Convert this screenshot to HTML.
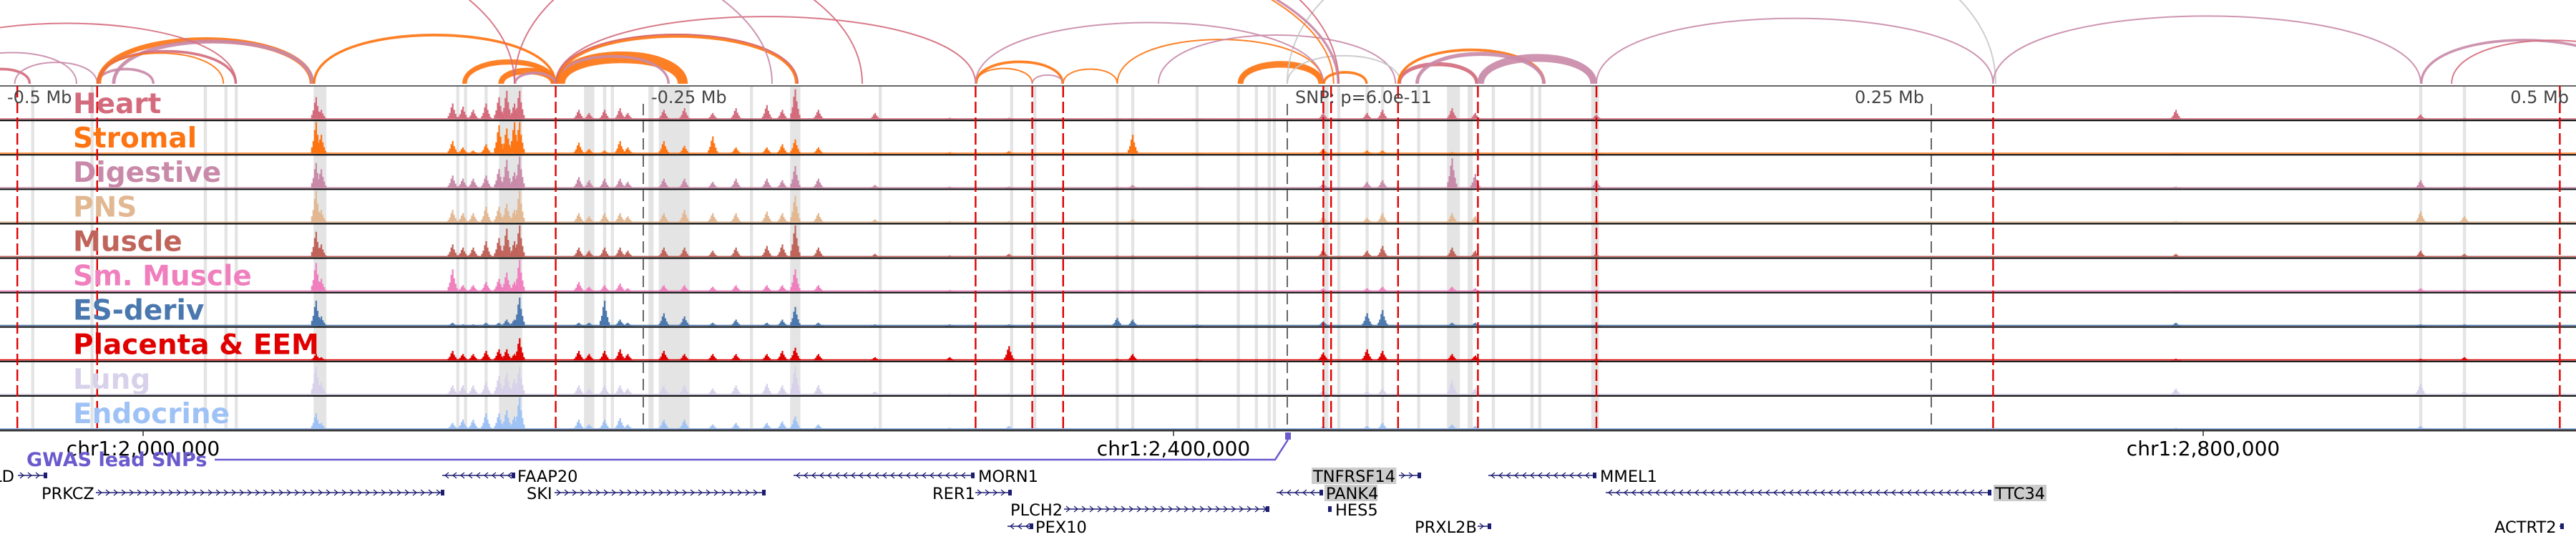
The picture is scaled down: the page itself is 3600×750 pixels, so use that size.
<!DOCTYPE html>
<html><head><meta charset="utf-8"><style>
html,body{margin:0;padding:0;background:#fff;}
svg{display:block;font-family:"DejaVu Sans","Liberation Sans",sans-serif;}
</style></head><body>
<svg id="chart" width="3600" height="750" viewBox="0 0 3600 750" xmlns="http://www.w3.org/2000/svg">
<g id="shades"></g>
<g id="arcs"></g>
<g id="tracks"></g>
<g id="vlines"></g>
<g id="labels"></g>
<g id="axis"></g>
<g id="genes"></g>
</svg>
<script>
// ---- data ----
const trackNames = ["Heart","Stromal","Digestive","PNS","Muscle","Sm. Muscle","ES-deriv","Placenta & EEM","Lung","Endocrine"];
const trackColors = ["#d46b7c","#fd7412","#c98aa9","#e2b892","#c0645b","#f07fbe","#4a78ae","#e00000","#d8d1ea","#9fc2f6"];
// peak positions in kb relative to lead SNP
const peakKb = [-377,-375,-324,-320,-316,-311,-306,-303,-300,-298,-275,-271,-265,-259,-256,-242,-234,-223,-214,-202,-196,-191,-182,-160,-131,-108,-66,-60,-35,14,31,37,64,73,120,345,440,457];
const hHeart   = [.7,.3,.5,.4,.3,.5,.7,.9,.5,.9,.3,.2,.3,.35,.2,.3,.35,.2,.35,.45,.3,.95,.3,.2,.05,.05,.03,.03,.03,.2,.2,.3,.35,.2,.15,.3,.15,.05];
const hStromal = [1,.6,.4,.2,.1,.3,.9,.8,1,1,.35,.15,.1,.4,.2,.4,.25,.55,.2,.2,.3,.45,.2,.05,.05,.08,.03,.6,.03,.15,.1,.1,.05,.05,.03,.02,.02,.02];
const hDigest  = [.8,.6,.4,.3,.3,.4,.6,.9,.5,1,.35,.25,.3,.3,.2,.3,.3,.2,.3,.3,.25,.7,.3,.1,.05,.05,.05,.1,.05,.15,.2,.25,.95,.45,.25,.05,.25,.05];
const hPNS     = [1,.4,.4,.3,.3,.5,.5,.6,.4,1,.3,.2,.3,.3,.2,.3,.4,.3,.3,.35,.3,.85,.3,.1,.05,.05,.05,.1,.05,.2,.15,.3,.3,.2,.1,.05,.35,.2];
const hMuscle  = [.8,.4,.4,.3,.3,.5,.6,.9,.5,1,.3,.2,.3,.3,.2,.3,.3,.2,.3,.35,.4,1,.3,.1,.05,.1,.05,.05,.05,.25,.2,.35,.3,.2,.1,.1,.2,.1];
const hSmMus   = [.9,.4,.7,.2,.2,.3,.4,.6,.3,1,.3,.15,.2,.25,.1,.2,.2,.15,.2,.2,.2,.7,.2,.05,.05,.05,.03,.05,.03,.1,.1,.15,.15,.1,.05,.03,.1,.05];
const hES      = [.8,.3,.1,.05,.05,.1,.1,.2,.2,.9,.1,.1,.8,.2,.1,.4,.3,.1,.2,.1,.2,.6,.1,.05,.05,.05,.25,.2,.05,.15,.4,.5,.1,.1,.05,.1,.05,.05];
const hPlac    = [.2,.1,.3,.2,.2,.3,.35,.35,.2,.7,.3,.2,.3,.35,.2,.3,.2,.2,.2,.2,.3,.4,.2,.1,.1,.45,.05,.2,.05,.25,.35,.3,.2,.15,.05,.05,.05,.1];
const hLung    = [.9,.4,.3,.3,.3,.4,.6,.7,.5,.9,.3,.2,.3,.3,.2,.3,.3,.2,.3,.35,.3,.9,.3,.1,.05,.05,.05,.05,.05,.15,.1,.2,.45,.2,.1,.2,.35,.1];
const hEndo    = [.5,.2,.2,.3,.3,.5,.5,.6,.4,1,.3,.15,.3,.35,.15,.3,.3,.15,.2,.2,.25,.4,.15,.05,.05,.1,.05,.05,.05,.1,.1,.2,.15,.1,.05,.05,.1,.05];
const trackHeights = [hHeart,hStromal,hDigest,hPNS,hMuscle,hSmMus,hES,hPlac,hLung,hEndo];
const shadeKb = [-487,-464,-420,-412,-408,[-378,-373],-322,-319,-311,[-306,-297],[-273,-269],-265,-262,[-248,-246],[-244,-232],-208,[-193,-189],-158,-107,-98,-66,-60,-35,-19,-12,-7,-5,[14,16],20,31,37,51,[62,67],[70,72],80,95,98,[118,121],440,457];
const redKb = [-493,-462,-284,-121,-99,-87,14,17,43,74,120,274,494];
const grayKb = [-500,-250,0,250];
// arcs: [startKb, endKb, colorIndex, multiplicity]
const arcData = [
 [-510,-488,0,2],[-520,-470,2,1],[-494,-462,2,1],[-462,-440,2,2],[-462,-378,1,4],[-456,-378,2,3],[-462,-408,0,2],[-462,-413,1,1],[-540,-408,0,1],
 [-378,-284,1,2],[-320,-284,1,4],[-306,-284,1,5],[-300,-284,2,2],[-284,-233,1,9],[-284,-240,2,2],[-284,-190,1,3],[-284,-190,0,1],[-284,-121,0,1],
 [-121,-87,1,2],[-121,-99,1,1],[-99,-87,2,1],[-87,-66,1,1],[-66,14,1,1],[-50,42,2,1],[-19,14,1,5],[0,44,9,1],[0,275,9,1],[-121,14,2,1],
 [14,31,1,2],[43,74,0,3],[43,100,1,2],[50,100,2,3],[74,120,2,6],[120,274,2,1],[274,440,2,1],[440,520,2,2],[452,530,0,1],
 [-700,-300,0,1],[-650,-200,2,1],[-600,-165,0,1],[-560,18,1,1],[-550,20,2,2],[-300,20,0,1]
];
// ---- scales ----
const SNPX = 1799, PXKB = 3.6;
const xKb = kb => SNPX + kb*PXKB;
const TOP = 120, TH = 48.1;
const NS = "http://www.w3.org/2000/svg";
function mk(tag, attrs, parent){const e=document.createElementNS(NS,tag);for(const k in attrs)e.setAttribute(k,attrs[k]);parent.appendChild(e);return e;}
const gShade=document.getElementById('shades'), gArcs=document.getElementById('arcs'), gTracks=document.getElementById('tracks'),
      gV=document.getElementById('vlines'), gL=document.getElementById('labels'), gAx=document.getElementById('axis'), gG=document.getElementById('genes');

// shades
shadeKb.forEach(s=>{
  const a = Array.isArray(s)?s[0]:s-0.6, b = Array.isArray(s)?s[1]:s+0.6;
  const r = mk('rect',{x:xKb(a),y:TOP,width:(b-a)*PXKB,height:TH*10,fill:'#e4e4e4'},gShade);
  
  
});

// arcs
const arcColors = ["#d46b7c","#fd7412","#c98aa9","#e2b892","#c0645b","#f07fbe","#4a78ae","#e00000","#d8d1ea","#c8c8c8"];
arcData.forEach(a=>{
  const x1=xKb(a[0]), x2=xKb(a[1]); const span=x2-x1;
  const h = 125*(1-Math.exp(-span/420)) * (span>900 ? 2.2 : 1);
  for(let m=0;m<a[3];m++){
    const hh = h - m*1.8;
    const p = mk('path',{d:`M${x1+m*1.5},117 C${x1+m*1.5},${117-hh*1.33} ${x2-m*1.5},${117-hh*1.33} ${x2-m*1.5},117`,fill:'none',stroke:arcColors[a[2]],'stroke-width':2,opacity:0.9},gArcs);
    
    
  }
});

// tracks
trackNames.forEach((name,i)=>{
  const y0 = TOP + i*TH, base = y0+TH-1.5;
  const g = mk('g',{},gTracks);
  
  
  const col = trackColors[i];
  mk('rect',{x:0,y:base-1.5,width:3600,height:1.5,fill:col},g);
  const hs = trackHeights[i];
  peakKb.forEach((kb,j)=>{
    const cx = xKb(kb), H = hs[j]*(TH-4);
    const w=[[-6,.2],[-4,.4],[-2,.75],[0,1],[2,.6],[4,.35],[6,.15]];
    w.forEach(q=>{
      const bh = H*q[1];
      const r = mk('rect',{x:cx+q[0]-1,y:base-bh,width:2.2,height:bh,fill:col},g);
      
      
    });
  });
  mk('line',{x1:0,x2:3600,y1:y0+TH,y2:y0+TH,stroke:'#111','stroke-width':2.2},g);
  const t = mk('text',{x:102,y:y0+38,'font-size':39,'font-weight':'bold',fill:col},gL);
  t.textContent=name;
  
  
});
mk('line',{x1:0,x2:3600,y1:TOP,y2:TOP,stroke:'#666','stroke-width':2},gTracks);

// vertical lines
redKb.forEach(kb=>{
  const l = mk('line',{x1:xKb(kb),x2:xKb(kb),y1:TOP,y2:TOP+TH*10,stroke:'#e00000','stroke-width':2.4,'stroke-dasharray':'16,6'},gV);
  
  
});
grayKb.forEach(kb=>{
  const l = mk('line',{x1:xKb(kb),x2:xKb(kb),y1:TOP+25,y2:TOP+TH*10,stroke:'#666','stroke-width':2,'stroke-dasharray':'16,8'},gV);
  
  
});
const mbLabels = [["-0.5 Mb",10,'start'],["-0.25 Mb",910,'start'],["SNP: p=6.0e-11",1810,'start'],["0.25 Mb",2689,'end'],["0.5 Mb",3590,'end']];
mbLabels.forEach(m=>{
  const t = mk('text',{x:m[1],y:144,'font-size':24,fill:'#444','text-anchor':m[2]},gV);
  t.textContent=m[0];
  
  
});

// axis
mk('line',{x1:0,x2:3600,y1:601,y2:601,stroke:'#333','stroke-width':3},gAx);
const axisTicks = [[200,"chr1:2,000,000"],[1640,"chr1:2,400,000"],[3079,"chr1:2,800,000"]];
axisTicks.forEach(a=>{
  mk('line',{x1:a[0],x2:a[0],y1:601,y2:609,stroke:'#333','stroke-width':1.5},gAx);
  const t=mk('text',{x:a[0],y:636,'font-size':28,'text-anchor':'middle',fill:'#000'},gAx);
  t.textContent=a[1];
  
  
});

// GWAS
mk('polyline',{points:'300,642 1782,642 1800,614',fill:'none',stroke:'#6a5acd','stroke-width':2.5},gG);
mk('rect',{x:1796,y:604,width:8,height:10,fill:'#6a5acd'},gG);
const gw = mk('text',{x:37,y:651,'font-size':27,'font-weight':'bold',fill:'#6a5acd'},gG);
gw.textContent='GWAS lead SNPs';



// genes: [name, lineStart, lineEnd, labelX, row, dir, highlight, labelAnchor]
const genes = [
 ["LD",25,65,20,0,1,false,'end'],
 ["FAAP20",618,719,723,0,-1,false,'start'],
 ["MORN1",1109,1361,1367,0,-1,false,'start'],
 ["TNFRSF14",1955,1985,1835,0,1,true,'start'],
 ["MMEL1",2080,2230,2236,0,-1,false,'start'],
 ["PRKCZ",134,620,58,1,1,false,'start'],
 ["SKI",775,1069,736,1,1,false,'start'],
 ["RER1",1363,1413,1303,1,1,false,'start'],
 ["PANK4",1784,1848,1853,1,-1,true,'start'],
 ["TTC34",2244,2782,2788,1,-1,true,'start'],
 ["PLCH2",1487,1773,1412,2,1,false,'start'],
 ["HES5",1857,1860,1866,2,1,false,'start'],
 ["PEX10",1408,1443,1447,3,-1,false,'start'],
 ["PRXL2B",2065,2083,1977,3,1,false,'start'],
 ["ACTRT2",3577,3582,3486,3,1,false,'start']
];
const rowY=[664,688,711,735];
genes.forEach(g=>{
  const y=rowY[g[4]];
  const grp=mk('g',{},gG);
  
  
  mk('line',{x1:g[1],x2:g[2],y1:y,y2:y,stroke:'#1d1d72','stroke-width':1.6},grp);
  for(let x=g[1]+6;x<g[2]-4;x+=11){
    const d=g[5]>0?`M${x-3},${y-4} L${x+2},${y} L${x-3},${y+4}`:`M${x+3},${y-4} L${x-2},${y} L${x+3},${y+4}`;
    mk('path',{d:d,fill:'none',stroke:'#1d1d72','stroke-width':1.3},grp);
  }
  mk('rect',{x:g[2]-4,y:y-4,width:5,height:8,fill:'#1d1d72'},grp);
  if(g[6]){
    const w=g[0].length*14.8;
    mk('rect',{x:g[3]-2,y:y-11,width:w,height:23,fill:'#cccccc'},grp);
  }
  const t=mk('text',{x:g[3],y:y+9,'font-size':22.5,fill:'#000','text-anchor':g[7]},grp);
  t.textContent=g[0];
});
</script>
</body></html>
